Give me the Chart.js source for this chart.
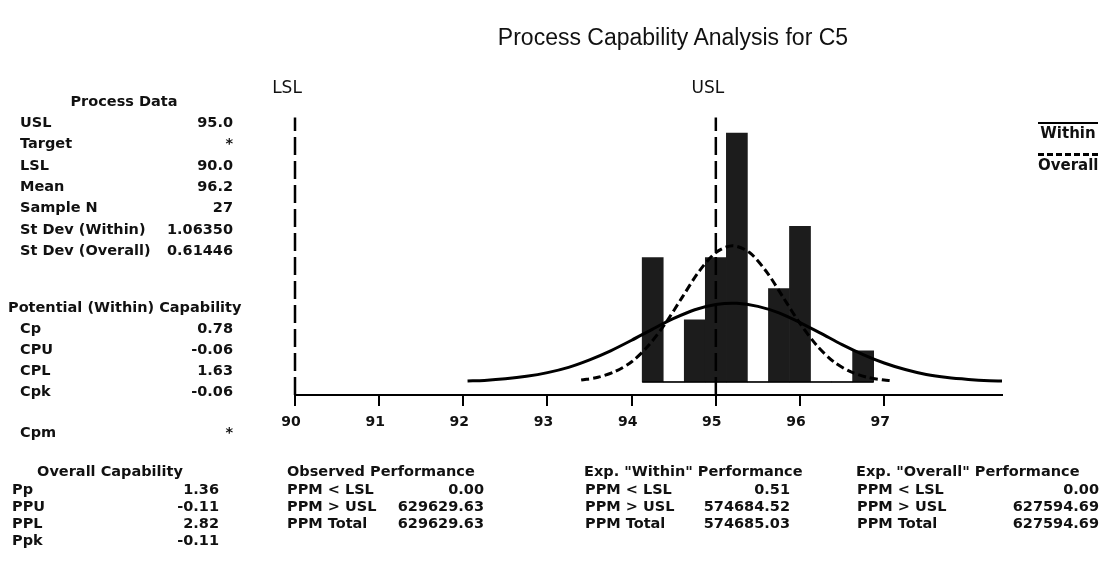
<!DOCTYPE html>
<html>
<head>
<meta charset="utf-8">
<script src="https://cdn.jsdelivr.net/npm/chart.js@4.4.1/dist/chart.umd.min.js"></script>
<style>
body { margin: 0; background: #fff; }
#wrap { position: relative; width: 1104px; height: 564px; overflow: hidden; font-family: "DejaVu Sans", sans-serif; color: #111; }
#myChart { position: absolute; left: 0; top: 0; }
.t { position: absolute; font-weight: bold; font-size: 14.5px; line-height: 16px; white-space: nowrap; }
#title { position: absolute; left: 0; width: 1346px; top: 24px; text-align: center; font-family: "Liberation Sans", Arial, sans-serif; font-size: 23px; color: #111; }
.lg { position: absolute; left: 1038px; width: 60px; text-align: center; font-weight: bold; font-size: 15px; }
</style>
</head>
<body>
<div id="wrap">
  <canvas id="myChart" width="1104" height="564"></canvas>
  <div id="title">Process Capability Analysis for C5</div>
</div>
<script>
// histogram bins (count per bin)
const binCenters = [94.25, 94.5, 94.75, 95.0, 95.25, 95.5, 95.75, 96.0, 96.25, 96.5, 96.75];
const binCounts  = [4, 0, 2, 4, 8, 0, 3, 5, 0, 0, 1];
const binWidth = 0.25;

// fitted curves (in counts)
const withinX = [92.05, 92.25, 92.5, 92.75, 93.0, 93.25, 93.5, 93.75, 94.0, 94.25, 94.5, 94.75, 95.0, 95.25,
                 95.5, 95.75, 96.0, 96.25, 96.5, 96.75, 97.0, 97.25, 97.5, 97.75, 98.0, 98.25, 98.4];
const withinY = [0.03, 0.05, 0.10, 0.18, 0.30, 0.47, 0.71, 1.00, 1.34, 1.70, 2.04, 2.32, 2.49, 2.53,
                 2.43, 2.22, 1.91, 1.56, 1.20, 0.88, 0.61, 0.40, 0.24, 0.14, 0.08, 0.04, 0.03];
const overallX = [93.4, 93.6, 93.8, 94.0, 94.2, 94.4, 94.6, 94.8, 95.0, 95.2, 95.4, 95.6, 95.8, 96.0,
                  96.2, 96.4, 96.6, 96.8, 97.0, 97.08];
const overallY = [0.06, 0.15, 0.33, 0.65, 1.17, 1.88, 2.72, 3.55, 4.16, 4.38, 4.16, 3.55, 2.72, 1.88,
                  1.17, 0.65, 0.33, 0.15, 0.06, 0.04];

const xTicks = [90, 91, 92, 93, 94, 95, 96, 97];
const specNames = ['LSL', 'USL'];
const specValues = [90, 95];
const specTop = 8.5;

// text tables
const processData = [['USL', '95.0'], ['Target', '*'], ['LSL', '90.0'], ['Mean', '96.2'], ['Sample N', '27'],
                     ['St Dev (Within)', '1.06350'], ['St Dev (Overall)', '0.61446']];
const potentialCap = [['Cp', '0.78'], ['CPU', '-0.06'], ['CPL', '1.63'], ['Cpk', '-0.06']];
const overallCap = [['Pp', '1.36'], ['PPU', '-0.11'], ['PPL', '2.82'], ['Ppk', '-0.11']];
const observedPerf = [['PPM < LSL', '0.00'], ['PPM > USL', '629629.63'], ['PPM Total', '629629.63']];
const withinPerf = [['PPM < LSL', '0.51'], ['PPM > USL', '574684.52'], ['PPM Total', '574685.03']];
const overallPerf = [['PPM < LSL', '0.00'], ['PPM > USL', '627594.69'], ['PPM Total', '627594.69']];

const wrap = document.getElementById('wrap');
function txt(s, x, y, cls, w) {
    const d = document.createElement('div');
    d.className = 't';
    d.textContent = s;
    d.style.top = (y - 8) + 'px';
    if (cls === 'r') { d.style.left = (x - 200) + 'px'; d.style.width = '200px'; d.style.textAlign = 'right'; }
    else if (cls === 'c') { d.style.left = (x - w / 2) + 'px'; d.style.width = w + 'px'; d.style.textAlign = 'center'; }
    else d.style.left = x + 'px';
    wrap.appendChild(d);
}
function block(rows, xl, xr, y0, dy) {
    rows.forEach((r, i) => { txt(r[0], xl, y0 + i * dy); txt(r[1], xr, y0 + i * dy, 'r'); });
}

txt('Process Data', 124, 101, 'c', 200);
block(processData, 20, 233, 122, 21.3);
txt('Potential (Within) Capability', 8, 307);
block(potentialCap, 20, 233, 328, 21);
block([['Cpm', '*']], 20, 233, 432, 0);
txt('Overall Capability', 110, 471, 'c', 220);
block(overallCap, 12, 219, 489, 17);
txt('Observed Performance', 287, 471);
block(observedPerf, 287, 484, 489, 17);
txt('Exp. "Within" Performance', 584, 471);
block(withinPerf, 585, 790, 489, 17);
txt('Exp. "Overall" Performance', 856, 471);
block(overallPerf, 857, 1099, 489, 17);

// legend
const lg1 = document.createElement('div');
lg1.className = 'lg'; lg1.textContent = 'Within';
lg1.style.top = '122px'; lg1.style.borderTop = '2px solid #000';
wrap.appendChild(lg1);
const lg2 = document.createElement('div');
lg2.className = 'lg'; lg2.textContent = 'Overall';
lg2.style.top = '153px'; lg2.style.borderTop = '3px dashed #000';
wrap.appendChild(lg2);

const yMin = -0.42;
const toPts = (xs, ys) => xs.map((x, i) => ({ x: x, y: ys[i] }));

// spec labels and the tick marks under the axis
const specLabels = {
    id: 'specLabels',
    afterDraw(chart) {
        const ctx = chart.ctx;
        const xs = chart.scales.x;
        const yb = chart.chartArea.bottom;
        ctx.save();
        ctx.strokeStyle = '#000';
        ctx.lineWidth = 2;
        xTicks.forEach(v => {
            const px = Math.round(xs.getPixelForValue(v));
            ctx.beginPath();
            ctx.moveTo(px, yb);
            ctx.lineTo(px, yb + 11);
            ctx.stroke();
        });
        ctx.font = '17px "DejaVu Sans"';
        ctx.fillStyle = '#111';
        ctx.textAlign = 'center';
        ctx.textBaseline = 'middle';
        specValues.forEach((v, i) => ctx.fillText(specNames[i], xs.getPixelForValue(v) - 8, 89));
        ctx.restore();
    }
};

const ctx_1 = document.getElementById('myChart');
window.myChart_1 = new Chart(ctx_1, {
    data: {
        datasets: [
            {
                type: 'bar',
                label: 'C5',
                data: toPts(binCenters, binCounts),
                backgroundColor: '#1c1c1c',
                borderWidth: 0,
                barPercentage: 1,
                categoryPercentage: 1,
                order: 5
            },
            {
                type: 'line',
                label: 'base',
                data: [{ x: binCenters[0] - binWidth / 2, y: 0 }, { x: binCenters[binCenters.length - 1] + binWidth / 2, y: 0 }],
                borderColor: '#000',
                borderWidth: 1.5,
                pointRadius: 0,
                order: 4
            },
            {
                type: 'line',
                label: 'Within',
                data: toPts(withinX, withinY),
                borderColor: '#000',
                borderWidth: 3,
                pointRadius: 0,
                tension: 0.3,
                order: 1
            },
            {
                type: 'line',
                label: 'Overall',
                data: toPts(overallX, overallY),
                borderColor: '#000',
                borderWidth: 3,
                borderDash: [8, 4],
                pointRadius: 0,
                tension: 0.3,
                order: 1
            },
            ...specValues.map((v, i) => ({
                type: 'line',
                label: specNames[i],
                data: [{ x: v, y: yMin }, { x: v, y: specTop }],
                borderColor: '#000',
                borderWidth: 2.5,
                borderDash: [18, 6],
                pointRadius: 0,
                clip: 6,
                order: 2
            }))
        ]
    },
    options: {
        responsive: false,
        animation: false,
        devicePixelRatio: 1,
        layout: { padding: { left: 295, right: 102, top: 102, bottom: 129 } },
        plugins: {
            legend: { display: false },
            tooltip: { enabled: false },
            title: { display: false }
        },
        scales: {
            x: {
                type: 'linear',
                min: 90,
                max: 98.4,
                offset: false,
                afterBuildTicks: (s) => { s.ticks = xTicks.map(v => ({ value: v })); },
                afterFit: (s) => { s.height = 40; },
                ticks: {
                    color: '#111',
                    font: { family: 'DejaVu Sans', size: 14, weight: 'bold' },
                    padding: 11,
                    labelOffset: -4,
                    maxRotation: 0,
                    autoSkip: false
                },
                grid: { display: false, offset: false },
                border: { display: true, color: '#000', width: 2 }
            },
            y: {
                type: 'linear',
                min: yMin,
                max: 9,
                display: false
            }
        }
    },
    plugins: [specLabels]
});
</script>
</body>
</html>
